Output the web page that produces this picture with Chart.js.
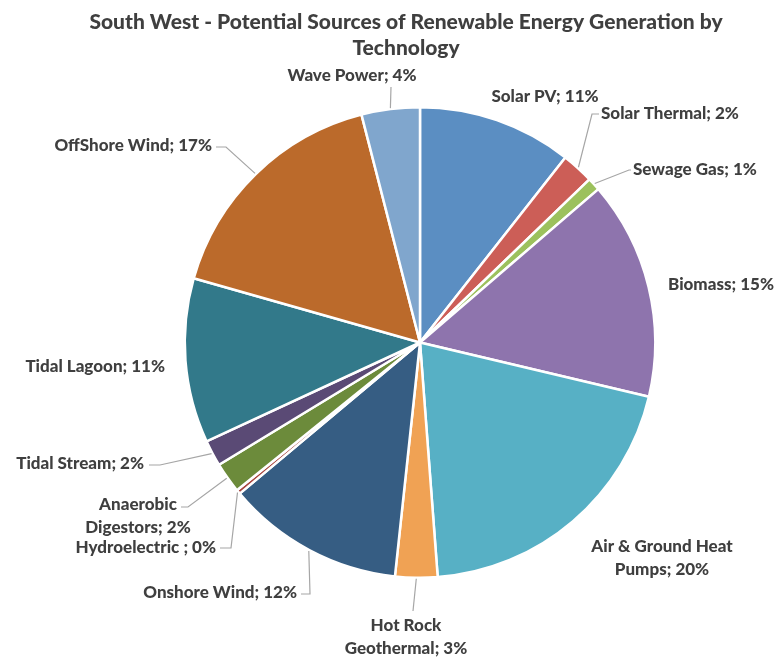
<!DOCTYPE html>
<html>
<head>
<meta charset="utf-8">
<script src="https://cdn.jsdelivr.net/npm/chart.js@4.4.1/dist/chart.umd.min.js"></script>
<style>
  html, body { margin: 0; padding: 0; background: #ffffff; }
  #wrap { width: 782px; height: 657px; position: relative; }
</style>
</head>
<body>
<div id="wrap"><canvas id="c" width="782" height="657"></canvas></div>
<script>
// ---- data ----
const titleLines = ["South West - Potential Sources of Renewable Energy Generation by", "Technology"];
const categories = [
  "Solar PV", "Solar Thermal", "Sewage Gas", "Biomass", "Air & Ground Heat Pumps",
  "Hot Rock Geothermal", "Onshore Wind", "Hydroelectric ", "Anaerobic Digestors",
  "Tidal Stream", "Tidal Lagoon", "OffShore Wind", "Wave Power"
];
const shares = [10.6, 2.2, 0.9, 15.0, 20.1, 2.9, 12.2, 0.3, 2.1, 1.8, 11.3, 16.6, 4.0];
const sliceColors = [
  "#5b8ec2", "#cc5e57", "#9cc15d", "#8e74ad", "#57b0c5",
  "#f0a254", "#365d83", "#a8443e", "#6c8b3b",
  "#5a4a75", "#32798a", "#bb6a2b", "#80a6cd"
];

// ---- label layout (annotation placement only) ----
// x,y: text anchor; align; wrap: words on first line (0 = single line); path: leader line points after the slice edge
const labelLayout = [
  { x: 545, y: 97,  align: "center", wrap: 0, path: null },
  { x: 601, y: 114, align: "left",   wrap: 0, path: [[592, 114], [599, 114]] },
  { x: 633, y: 170, align: "left",   wrap: 0, path: [[629, 170], [631, 170]] },
  { x: 668, y: 285, align: "left",   wrap: 0, path: null },
  { x: 662, y: 547, align: "center", wrap: 4, path: null },
  { x: 406, y: 626, align: "center", wrap: 2, path: [[413, 611]] },
  { x: 297, y: 593, align: "right",  wrap: 0, path: [[310, 594], [301, 594]] },
  { x: 216, y: 548, align: "right",  wrap: 0, path: [[231, 548], [220, 548]] },
  { x: 138, y: 505, align: "center", wrap: 1, path: [[188, 507], [181, 507]] },
  { x: 144, y: 464, align: "right",  wrap: 0, path: [[160, 465], [149, 465]] },
  { x: 165, y: 367, align: "right",  wrap: 0, path: null },
  { x: 212, y: 146, align: "right",  wrap: 0, path: [[226, 147], [216, 147]] },
  { x: 352, y: 76,  align: "center", wrap: 0, path: [[391, 87]] }
];

const FONT = "Lato, 'Open Sans', sans-serif";
const textColor = "#3f3f3f";
const leaderColor = "#a6a6a6";

const total = shares.reduce((a, b) => a + b, 0);

const labelPlugin = {
  id: "pieLabels",
  afterDraw(chart) {
    const ctx = chart.ctx;
    ctx.save();
    // title
    ctx.fillStyle = textColor;
    ctx.font = "900 21px " + FONT;
    ctx.textAlign = "center";
    ctx.textBaseline = "middle";
    ctx.fillText(titleLines[0], 406, 22);
    ctx.fillText(titleLines[1], 406, 48);

    const meta = chart.getDatasetMeta(0);
    meta.data.forEach((arc, i) => {
      const p = arc.getProps(["x", "y", "startAngle", "endAngle", "outerRadius"], true);
      const mid = (p.startAngle + p.endAngle) / 2;
      const sx = p.x + Math.cos(mid) * (p.outerRadius + 1);
      const sy = p.y + Math.sin(mid) * (p.outerRadius + 1);
      const L = labelLayout[i];
      if (L.path) {
        ctx.strokeStyle = leaderColor;
        ctx.lineWidth = 1.2;
        ctx.beginPath();
        ctx.moveTo(sx, sy);
        L.path.forEach(pt => ctx.lineTo(pt[0], pt[1]));
        ctx.stroke();
      }
      const pct = Math.round(shares[i] / total * 100) + "%";
      const full = categories[i] + "; " + pct;
      let lines = [full];
      if (L.wrap > 0) {
        const words = full.split(" ");
        lines = [words.slice(0, L.wrap).join(" "), words.slice(L.wrap).join(" ")];
      }
      ctx.fillStyle = textColor;
      ctx.font = "900 17px " + FONT;
      ctx.textBaseline = "middle";
      ctx.textAlign = L.align;
      lines.forEach((t, k) => ctx.fillText(t, L.x, L.y + k * 23));
    });
    ctx.restore();
  }
};

new Chart(document.getElementById("c"), {
  type: "pie",
  data: {
    labels: categories,
    datasets: [{
      data: shares,
      backgroundColor: sliceColors,
      borderColor: "#ffffff",
      borderWidth: 2.5
    }]
  },
  options: {
    responsive: false,
    animation: false,
    devicePixelRatio: 1,
    layout: { padding: { left: 183, right: 125, top: 106, bottom: 78 } },
    plugins: {
      legend: { display: false },
      title: { display: false },
      tooltip: { enabled: false }
    }
  },
  plugins: [labelPlugin]
});
</script>
</body>
</html>
